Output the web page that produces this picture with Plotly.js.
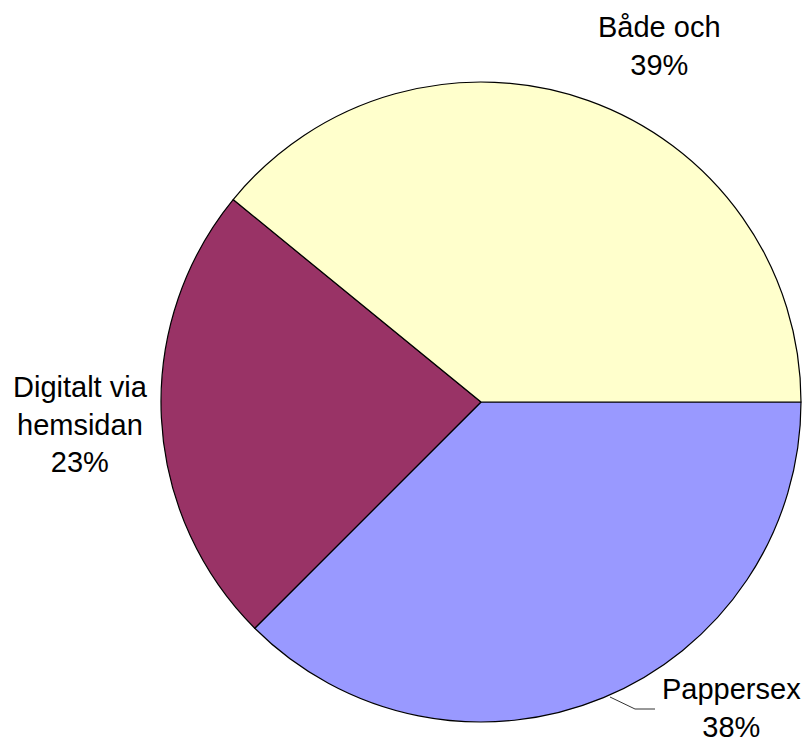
<!DOCTYPE html>
<html>
<head>
<meta charset="utf-8">
<script src="https://cdn.plot.ly/plotly-3.0.1.min.js"></script>
<style>html,body{margin:0;padding:0;background:#fff;}#chart{width:808px;height:742px;}</style>
</head>
<body>
<div id="chart"></div>
<script>
const labels = ["Pappersex", "Digitalt via hemsidan", "Både och"];
const displayLabels = ["Pappersex", "Digitalt via<br>hemsidan", "Både och"];
const values = [37.5, 23.4, 39.1];
const colors = ["#9999FF", "#993366", "#FFFFCC"];

const W = 808, H = 742;
const cx = 481, cy = 402, R = 320;
const px = x => x / W;
const py = y => 1 - y / H;

const total = values.reduce((a, b) => a + b, 0);
const labelPos = [[731, 708], [80, 424], [659, 46]];

const annotations = labels.map((l, i) => ({
  text: displayLabels[i] + "<br>" + Math.round(values[i] / total * 100) + "%",
  x: px(labelPos[i][0]), y: py(labelPos[i][1]),
  xref: "paper", yref: "paper", xanchor: "center", yanchor: "middle",
  showarrow: false,
  font: {family: "Liberation Sans, Arial, sans-serif", size: 29, color: "#000"}
}));

const trace = {
  type: "pie",
  labels: labels,
  values: values,
  sort: false,
  direction: "clockwise",
  rotation: 90,
  textinfo: "none",
  hoverinfo: "label+percent",
  marker: {colors: colors, line: {color: "#000", width: 1.2}},
  domain: {x: [px(cx - R), px(cx + R)], y: [py(cy + R), py(cy - R)]}
};

const layout = {
  width: W, height: H,
  margin: {l: 0, r: 0, t: 0, b: 0},
  showlegend: false,
  paper_bgcolor: "#fff",
  annotations: annotations,
  shapes: [{
    type: "path", xref: "paper", yref: "paper",
    path: `M ${px(610)} ${py(697)} L ${px(635)} ${py(709)} L ${px(655)} ${py(709)}`,
    line: {color: "#333", width: 1}
  }]
};

Plotly.newPlot("chart", [trace], layout, {staticPlot: true});
</script>
</body>
</html>
